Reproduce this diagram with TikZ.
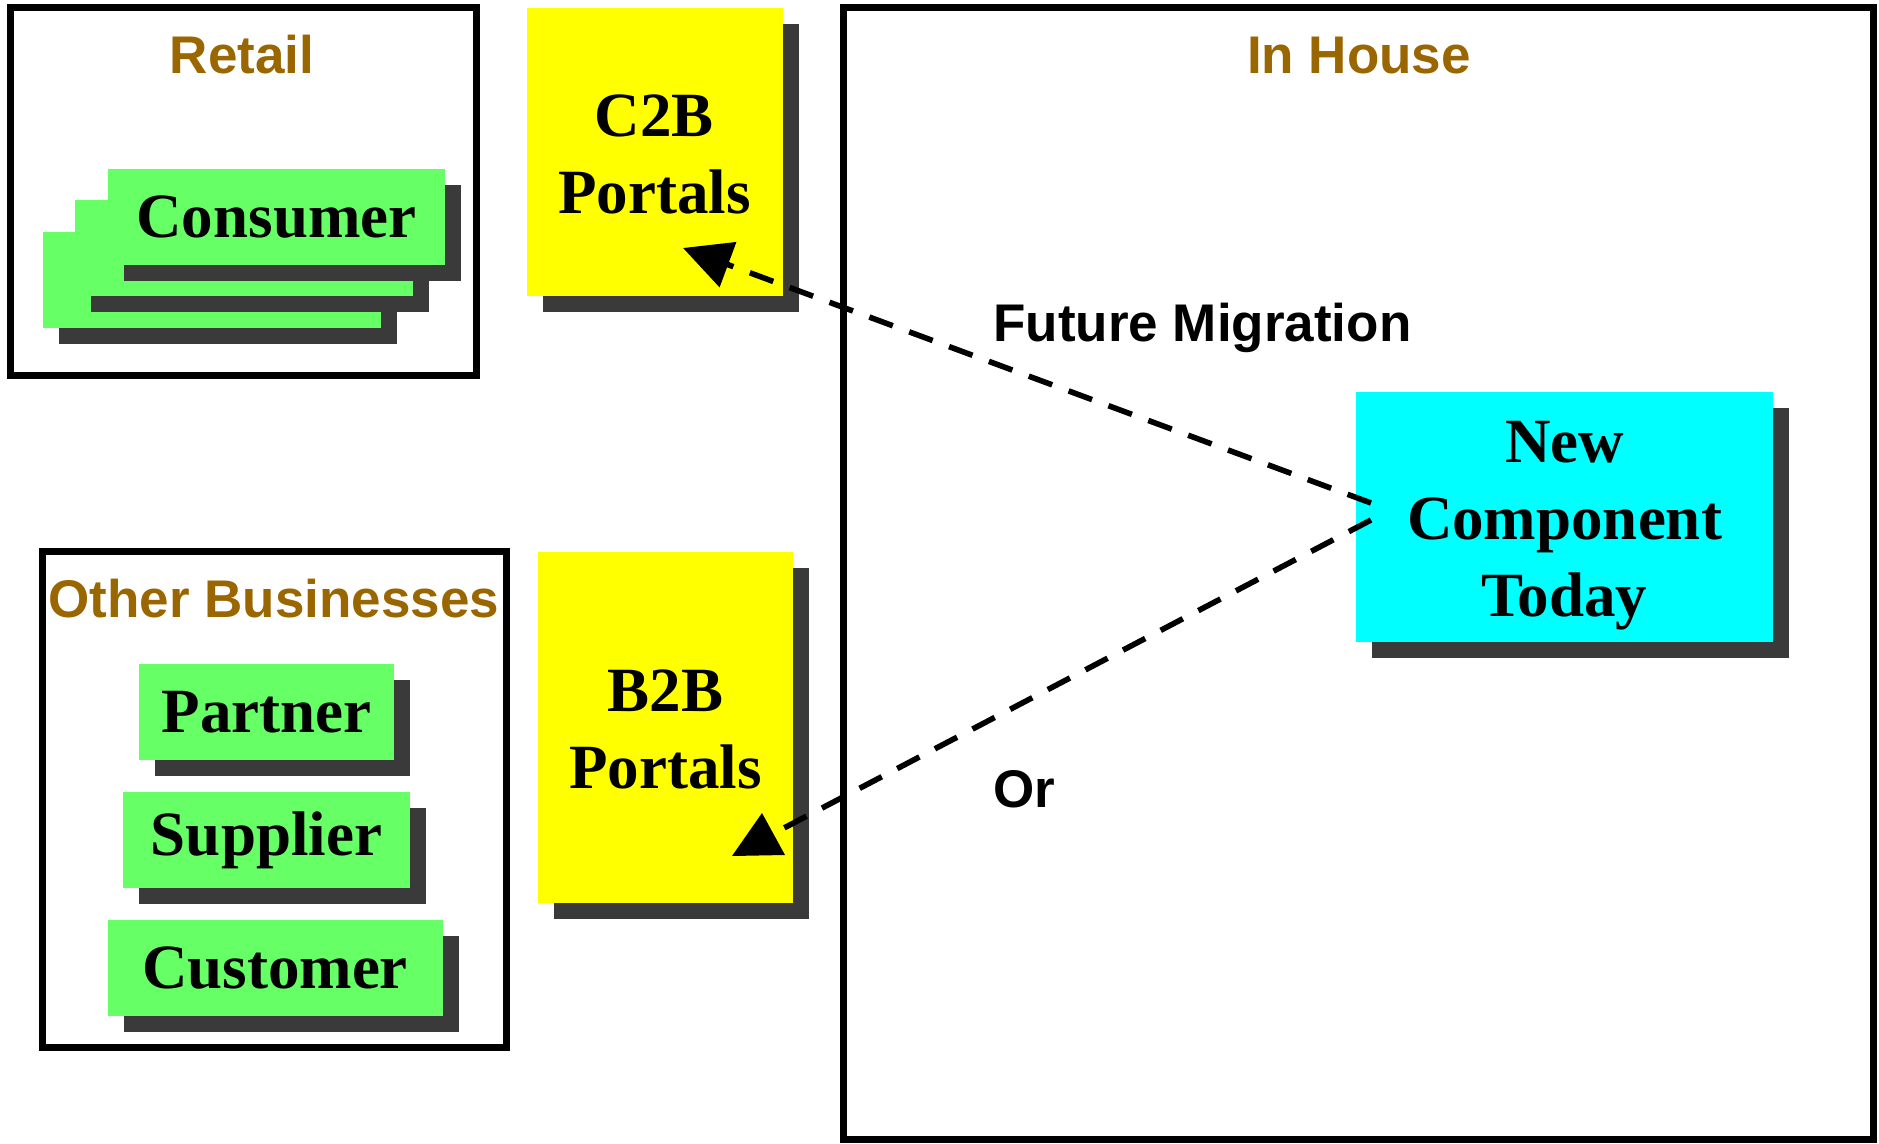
\documentclass[tikz,border=0pt]{standalone}
\usepackage{fontspec}
\setmainfont{Liberation Serif}
\setsansfont{Liberation Sans}
\usetikzlibrary{arrows.meta,shadows}

\definecolor{labelbrown}{HTML}{996600}
\definecolor{actorgreen}{HTML}{66FF66}
\definecolor{portalyellow}{HTML}{FFFF00}
\definecolor{compcyan}{HTML}{00FFFF}
\definecolor{shadowgray}{HTML}{3A3A3A}

\tikzset{
	groupframe/.style={draw=black, line width=3.5pt},
	shadowbox/.style={inner sep=0pt, align=center, font=\fontsize{31.5}{38.5}\selectfont\bfseries,
		drop shadow={shadow xshift=8pt, shadow yshift=-8pt, fill=shadowgray, opacity=1}},
	actor/.style={shadowbox, fill=actorgreen, minimum height=48pt},
	portal/.style={shadowbox, fill=portalyellow, minimum width=128pt},
	textlabel/.style={font=\fontsize{26.5}{32}\selectfont\sffamily\bfseries, inner sep=0pt},
	grouplabel/.style={textlabel, text=labelbrown, anchor=base},
	migration/.style={line width=2.8pt, dash pattern=on 12.5pt off 8.75pt},
}

\begin{document}
\begin{tikzpicture}[x=0.5pt, y=-0.5pt]
\useasboundingbox (0,0) rectangle (1879,1144);

\draw[groupframe] (10,8) rectangle (476,376);
\draw[groupframe] (42,551) rectangle (506,1047);
\draw[groupframe] (843,8) rectangle (1873,1139);

\node[grouplabel] (retail) at (242,74) {Retail};
\node[grouplabel] (others) at (274,617) {Other Businesses};
\node[grouplabel] (inhouse) at (1359,74) {In House};

\foreach \i/\x/\y in {2/212/280, 1/244/248}{
	\node[actor, minimum width=169pt] (consumer\i) at (\x,\y) {};
}
\node[actor, minimum width=168.5pt] (consumer) at (276.5,217) {Consumer};

\node[actor, minimum width=127.5pt] (partner) at (266.5,712) {Partner};
\node[actor, minimum width=143.5pt] (supplier) at (266.5,840) {Supplier};
\node[actor, minimum width=167.5pt] (customer) at (275,968) {Customer};

\node[portal, minimum height=144pt] (c2b) at (654.5,152) {\rule{0pt}{23pt}C2B\\Portals};
\node[portal, minimum width=127.5pt, minimum height=175.5pt] (b2b) at (665.5,727.5) {\rule{0pt}{23pt}B2B\\Portals};

\node[shadowbox, fill=compcyan, minimum width=208.5pt, minimum height=125pt] (newcomp) at (1564.5,517) {\rule{0pt}{29.5pt}New\\Component\\Today};

\coordinate (ncup) at (1371,503);
\coordinate (nclow) at (1371,520);
\coordinate (c2btip) at (683,248);
\coordinate (b2bend) at (784,828);
\coordinate (b2btip) at (762,813);

\draw[migration, -{Triangle[length=24pt,width=23.5pt]}] (ncup) -- (c2btip);
\draw[migration] (nclow) -- (b2bend);
\fill (b2btip) -- ++(-30,43) -- ++(53,-1) -- cycle;

\node[textlabel, anchor=base west] (future) at (993,342) {Future Migration};
\node[textlabel, anchor=base west] (or) at (993,807) {Or};

\end{tikzpicture}
\end{document}
